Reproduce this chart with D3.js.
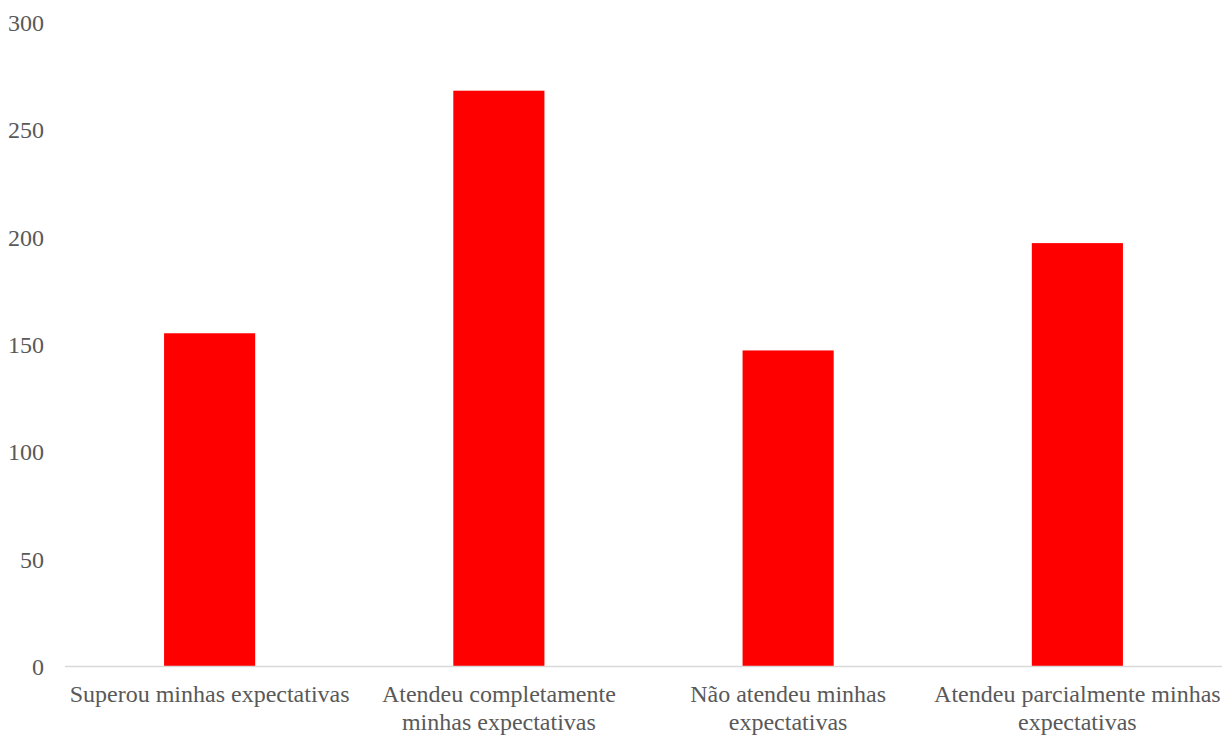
<!DOCTYPE html>
<html>
<head>
<meta charset="utf-8">
<script src="https://cdn.jsdelivr.net/npm/d3@7"></script>
<style>
  html, body { margin: 0; padding: 0; background: #fff; }
  svg { display: block; }
</style>
</head>
<body>
<svg id="chart" width="1231" height="736"></svg>
<script>
const categories = [
  "Superou minhas expectativas",
  "Atendeu completamente minhas expectativas",
  "Não atendeu minhas expectativas",
  "Atendeu parcialmente minhas expectativas"
];
const categoryLines = [
  ["Superou minhas expectativas"],
  ["Atendeu completamente", "minhas expectativas"],
  ["Não atendeu minhas", "expectativas"],
  ["Atendeu parcialmente minhas", "expectativas"]
];
const values = [155, 268, 147, 197];
const yTicks = [0, 50, 100, 150, 200, 250, 300];

const svg = d3.select("#chart");
const margin = { left: 65, right: 9, top: 22, bottom: 70 };
const W = 1231, H = 736;

const x = d3.scaleBand()
  .domain(categories)
  .range([margin.left, W - margin.right])
  .paddingInner(0.685)
  .paddingOuter(0.3425);

const y = d3.scaleLinear()
  .domain([0, 300])
  .range([H - margin.bottom, margin.top]);

const font = "'Liberation Serif', 'Times New Roman', serif";
const fontSize = 24;

// bars
svg.append("g")
  .selectAll("rect")
  .data(values)
  .join("rect")
  .attr("x", (d, i) => x(categories[i]))
  .attr("width", x.bandwidth())
  .attr("y", d => y(d))
  .attr("height", d => y(0) - y(d))
  .attr("fill", "#ff0000");

// baseline
svg.append("line")
  .attr("x1", margin.left).attr("x2", W - margin.right)
  .attr("y1", y(0) + 0.5).attr("y2", y(0) + 0.5)
  .attr("stroke", "#d9d9d9").attr("stroke-width", 1.5);

// y tick labels
const yAxis = d3.axisLeft(y).tickValues(yTicks).tickSize(0).tickPadding(0);
const gy = svg.append("g")
  .attr("transform", `translate(${margin.left - 21},0)`)
  .call(yAxis);
gy.select(".domain").remove();
gy.selectAll("text")
  .attr("font-family", font)
  .attr("font-size", fontSize)
  .attr("fill", "#595959")
  .attr("dy", "0.35em");

// category labels
const gx = svg.append("g");
categoryLines.forEach((lines, i) => {
  const cx = x(categories[i]) + x.bandwidth() / 2;
  const t = gx.append("text")
    .attr("text-anchor", "middle")
    .attr("font-family", font)
    .attr("font-size", fontSize)
    .attr("fill", "#595959");
  lines.forEach((ln, j) => {
    t.append("tspan")
      .attr("x", cx)
      .attr("y", y(0) + 36 + j * 28)
      .text(ln);
  });
});
</script>
</body>
</html>
